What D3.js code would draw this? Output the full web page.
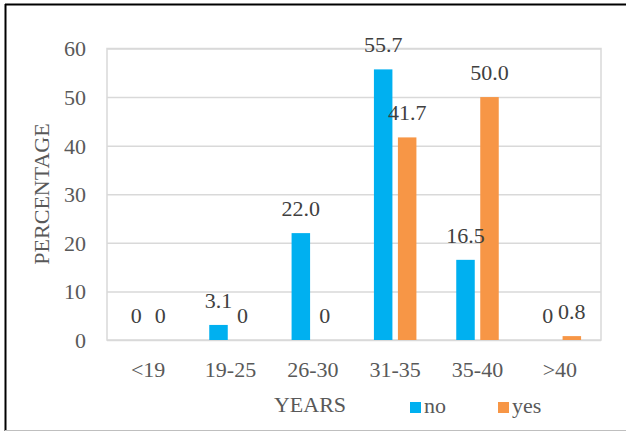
<!DOCTYPE html>
<html>
<head>
<meta charset="utf-8">
<script src="https://cdn.jsdelivr.net/npm/d3@7"></script>
<style>
  html, body { margin: 0; padding: 0; background: #fff; }
  svg { display: block; }
  svg text { font-family: "Liberation Serif", "Times New Roman", serif !important; }
</style>
</head>
<body>
<svg id="chart" width="626" height="432"></svg>
<script>
// Age groups and share (%) of respondents in each group
const categories = ["<19", "19-25", "26-30", "31-35", "35-40", ">40"];
const seriesNames = ["no", "yes"];
const noValues = [0, 3.1, 22.0, 55.7, 16.5, 0];
const yesValues = [0, 0, 0, 41.7, 50.0, 0.8];
const noLabels = ["0", "3.1", "22.0", "55.7", "16.5", "0"];
const yesLabels = ["0", "0", "0", "41.7", "50.0", "0.8"];
const yTicks = [0, 10, 20, 30, 40, 50, 60];

const colors = { no: "#00b0f0", yes: "#f79646" };
const serif = '"Liberation Serif", "Times New Roman", serif';

const svg = d3.select("#chart");
const W = 626, H = 432;
const plot = { left: 107, right: 601, top: 48.5, bottom: 340 };

// outer frame
svg.append("line").attr("x1", 5.5).attr("x2", 5.5).attr("y1", 4).attr("y2", 431)
  .attr("stroke", "#000").attr("stroke-width", 2);
svg.append("line").attr("x1", 5).attr("x2", W).attr("y1", 4.5).attr("y2", 4.5)
  .attr("stroke", "#000").attr("stroke-width", 2);
svg.append("line").attr("x1", 5).attr("x2", W).attr("y1", 430.5).attr("y2", 430.5)
  .attr("stroke", "#bfbfbf").attr("stroke-width", 1);

const x0 = d3.scaleBand().domain(categories).range([plot.left, plot.right]).padding(0);
const groupHalf = 21.25;
const x1 = d3.scaleBand().domain(seriesNames)
  .range([x0.bandwidth() / 2 - groupHalf, x0.bandwidth() / 2 + groupHalf])
  .paddingInner(0.229).paddingOuter(0);
const y = d3.scaleLinear().domain([0, 60]).range([plot.bottom, plot.top]);

// gridlines
const grid = svg.append("g")
  .attr("transform", `translate(${plot.left},0)`)
  .call(d3.axisLeft(y).tickValues(yTicks).tickSize(-(plot.right - plot.left)).tickFormat(""));
grid.select(".domain").remove();
grid.selectAll("line").attr("stroke", "#d9d9d9").attr("stroke-width", 1.5);

// plot-area border
svg.append("rect")
  .attr("x", plot.left).attr("y", plot.top)
  .attr("width", plot.right - plot.left).attr("height", plot.bottom - plot.top)
  .attr("fill", "none").attr("stroke", "#d9d9d9").attr("stroke-width", 1.5);

// y tick labels
const yAxis = svg.append("g")
  .attr("transform", `translate(86,0)`)
  .call(d3.axisLeft(y).tickValues(yTicks).tickSize(0).tickPadding(0));
yAxis.attr("font-family", serif).attr("font-size", 22);
yAxis.select(".domain").remove();
yAxis.selectAll("text").attr("fill", "#595959").attr("dy", "0.34em");

// x tick labels
const xAxis = svg.append("g")
  .attr("transform", `translate(0,${plot.bottom})`)
  .call(d3.axisBottom(x0).tickSize(0).tickPadding(0));
xAxis.attr("font-family", serif).attr("font-size", 22);
xAxis.select(".domain").remove();
xAxis.selectAll("text").attr("fill", "#595959").attr("dy", null).attr("y", 37);

// bars
const rows = categories.map((c, i) => ({
  cat: c,
  vals: [
    { key: "no", v: noValues[i], label: noLabels[i] },
    { key: "yes", v: yesValues[i], label: yesLabels[i] }
  ]
}));

const groups = svg.append("g").selectAll("g").data(rows).join("g")
  .attr("transform", d => `translate(${x0(d.cat)},0)`);

groups.selectAll("rect").data(d => d.vals).join("rect")
  .attr("x", d => x1(d.key))
  .attr("width", x1.bandwidth())
  .attr("y", d => y(d.v))
  .attr("height", d => y(0) - y(d.v))
  .attr("fill", d => colors[d.key]);

groups.selectAll("text").data(d => d.vals).join("text")
  .attr("x", d => x1(d.key) + x1.bandwidth() / 2)
  .attr("y", d => y(d.v) - 17)
  .attr("text-anchor", "middle")
  .attr("font-size", 22)
  .attr("fill", "#404040")
  .text(d => d.label);

// axis titles
svg.append("text")
  .attr("transform", "translate(49,194) rotate(-90)")
  .attr("text-anchor", "middle")
  .attr("font-size", 22).attr("fill", "#595959")
  .text("PERCENTAGE");

svg.append("text")
  .attr("x", 310).attr("y", 412)
  .attr("text-anchor", "middle")
  .attr("font-size", 22).attr("fill", "#595959")
  .text("YEARS");

// legend
const legend = svg.append("g").selectAll("g").data([
  { key: "no", x: 410 }, { key: "yes", x: 498 }
]).join("g").attr("transform", d => `translate(${d.x},402)`);
legend.append("rect").attr("width", 11).attr("height", 11).attr("fill", d => colors[d.key]);
legend.append("text").attr("x", 14).attr("y", 10.5)
  .attr("font-size", 22).attr("fill", "#595959").text(d => d.key);
</script>
</body>
</html>
